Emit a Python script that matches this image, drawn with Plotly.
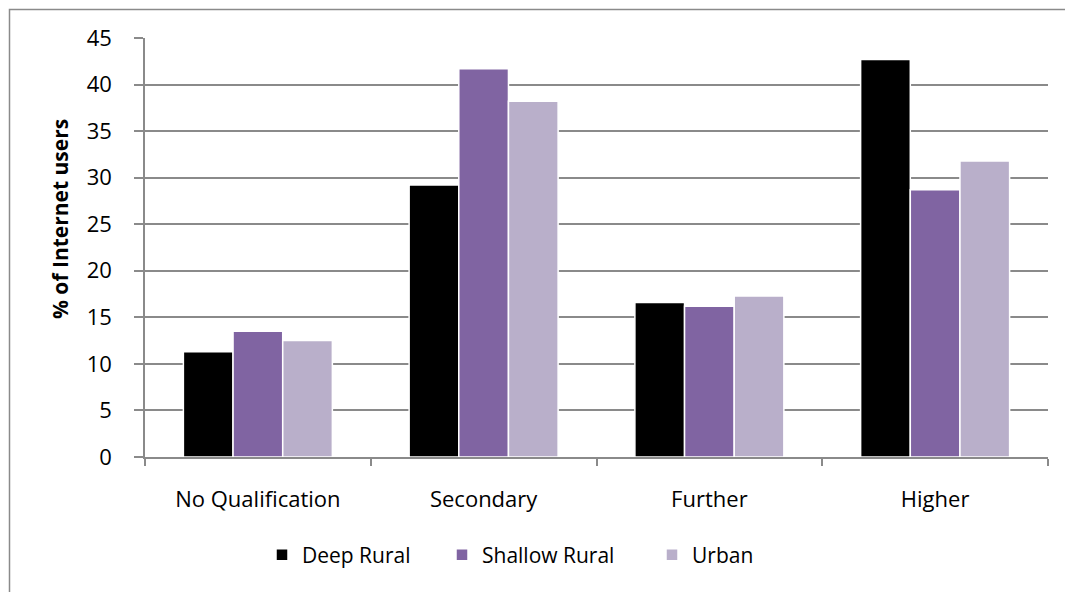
import plotly.graph_objects as go

categories = ["No Qualification", "Secondary", "Further", "Higher"]
deep_rural = [11.3, 29.2, 16.6, 42.7]
shallow_rural = [13.5, 41.7, 16.2, 28.7]
urban = [12.5, 38.2, 17.3, 31.8]
series_names = ["Deep Rural", "Shallow Rural", "Urban"]
colors = ["#000000", "#8064A2", "#B9AFCA"]

# page has an 8px body margin; figure is offset by (8, 8)
OFF = 8
W, H = 1073 - OFF, 592 - OFF
L, R, T, B = 145 - OFF, 25, 38 - OFF, 135
pw = W - L - R
ph = H - T - B
FONT = "Open Sans"
GRAY = "#8A8A8A"


def px_x(page_x):
    return (page_x - OFF - L) / pw


def px_y(page_y):
    return (H - B - (page_y - OFF)) / ph


legend_pos = [262, 442, 652]  # page x of each legend item start

fig = go.Figure()
for i, (name, vals, col) in enumerate(zip(series_names, [deep_rural, shallow_rural, urban], colors)):
    lg = "legend" if i == 0 else f"legend{i + 1}"
    fig.add_trace(go.Bar(
        x=categories, y=vals, name=name, legend=lg,
        marker=dict(color=col, line=dict(color="white", width=1.5)),
    ))

# outer chart border (extends past right/bottom edge like the reference)
fig.add_shape(type="rect", xref="paper", yref="paper",
              x0=px_x(9.5), x1=px_x(1085), y0=px_y(600), y1=px_y(9.5),
              line=dict(color=GRAY, width=1.5), fillcolor="rgba(0,0,0,0)",
              layer="below")

fig.add_annotation(text="<b>% of Internet users</b>", textangle=-90,
                   xref="paper", yref="paper", x=px_x(60), y=px_y(219),
                   showarrow=False, xanchor="center", yanchor="middle",
                   font=dict(family=FONT, size=21, color="#000000"))

legend_common = dict(orientation="h", yanchor="middle", xanchor="left",
                     font=dict(family=FONT, size=21, color="#000000"),
                     bgcolor="rgba(0,0,0,0)", borderwidth=0, itemwidth=30)
layout_legends = {}
for i, lx in enumerate(legend_pos):
    key = "legend" if i == 0 else f"legend{i + 1}"
    layout_legends[key] = dict(legend_common, x=px_x(lx), y=px_y(555))

fig.update_layout(
    width=W, height=H,
    margin=dict(l=L, r=R, t=T, b=B),
    paper_bgcolor="white", plot_bgcolor="white",
    barmode="group", bargap=0.34, bargroupgap=0.0,
    font=dict(family=FONT, color="#000000", size=22),
    showlegend=True,
    xaxis=dict(showgrid=False, showline=True, linecolor=GRAY, linewidth=1.5,
               ticks="outside", tickson="boundaries", ticklen=7, tickcolor=GRAY,
               tickwidth=1.5, tickfont=dict(family=FONT, size=22), fixedrange=True,
               ticklabelstandoff=22),
    yaxis=dict(range=[0, 45], dtick=5, showgrid=True, gridcolor=GRAY, gridwidth=1.5,
               showline=True, linecolor=GRAY, linewidth=1.5, ticks="outside",
               ticklen=9, tickcolor=GRAY, tickwidth=1.5, zeroline=False,
               tickfont=dict(family=FONT, size=22), ticklabelstandoff=18,
               fixedrange=True),
    **layout_legends,
)

fig.write_html("out.html")
